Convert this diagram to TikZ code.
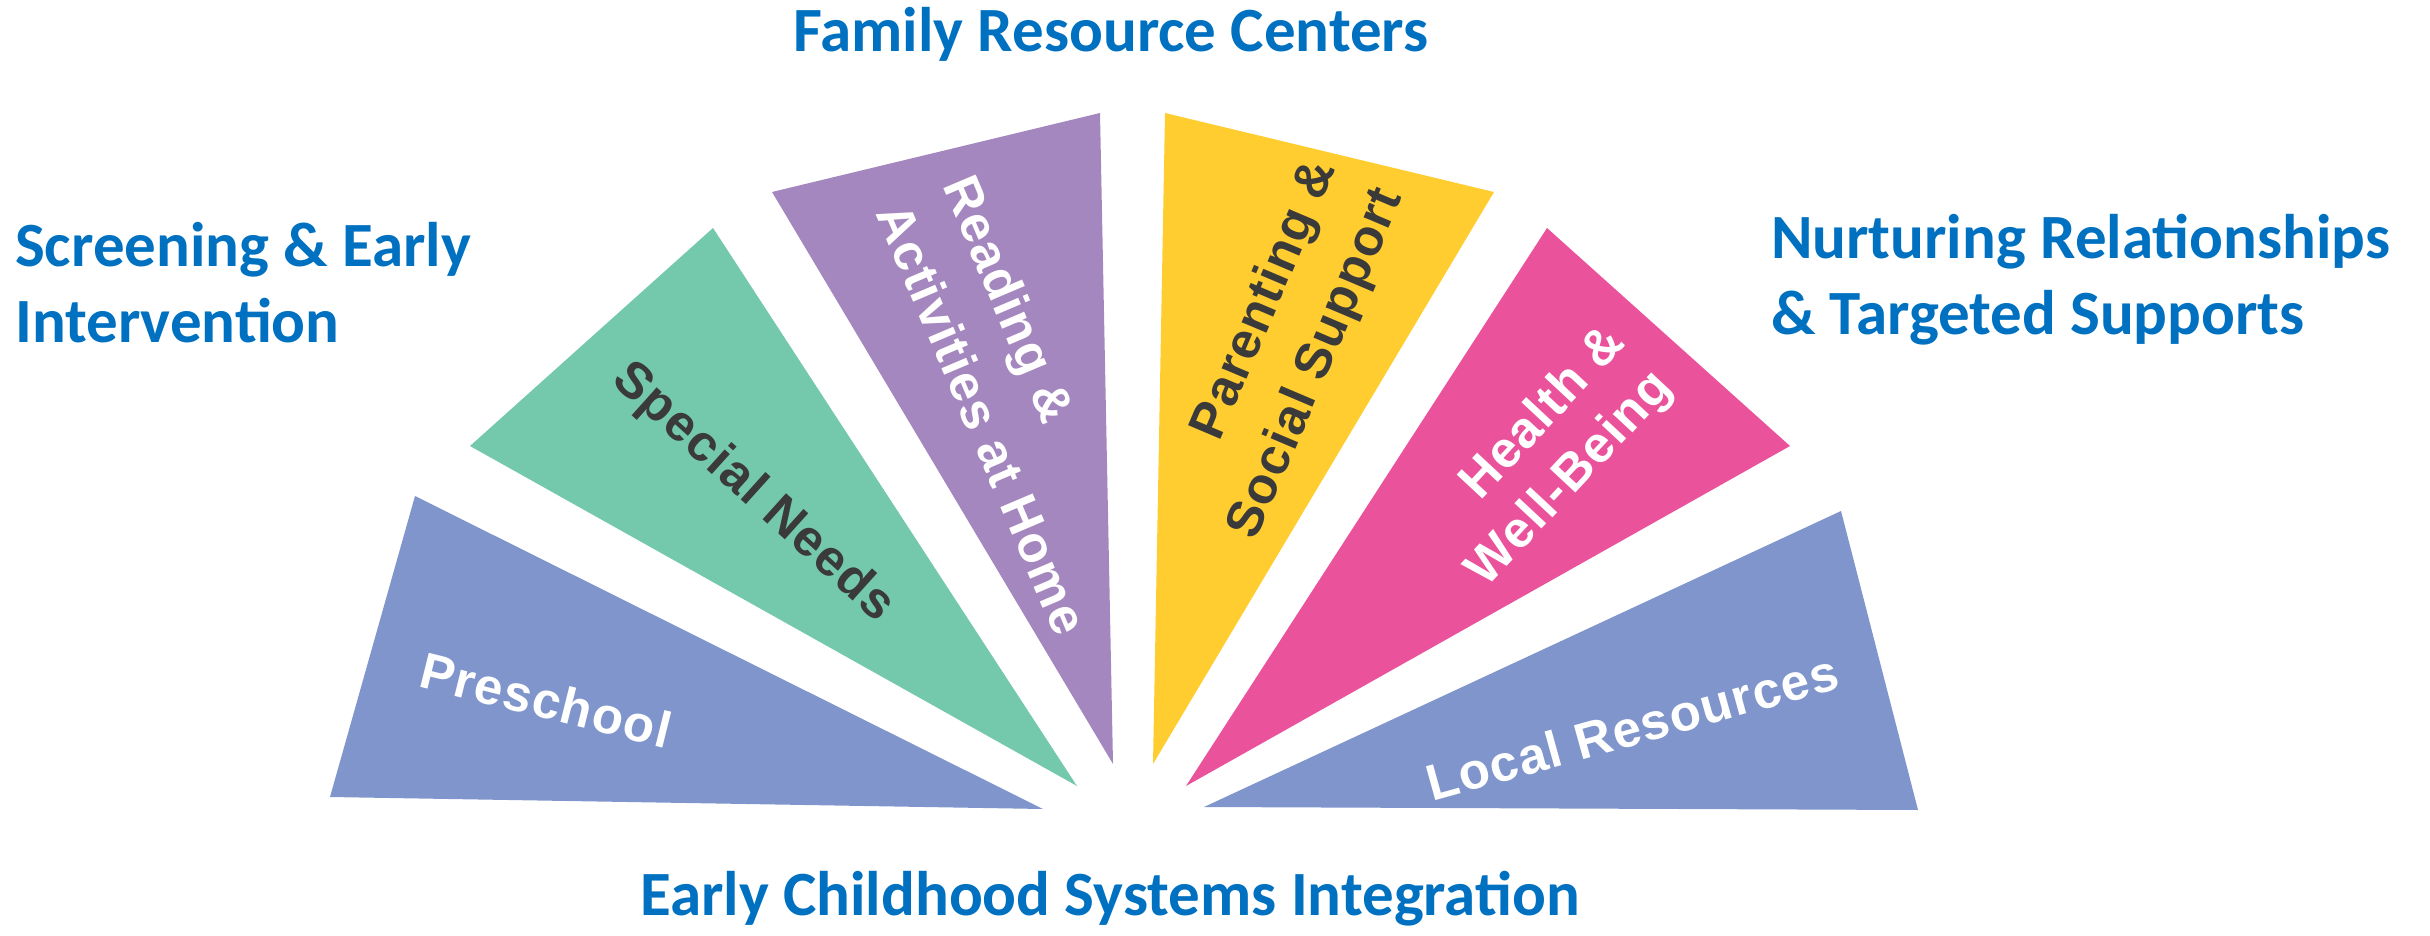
\documentclass[tikz,border=0pt]{standalone}
\usepackage{fontspec}
\newfontfamily\hdfont{Carlito}
\newfontfamily\lbfont{Liberation Sans}[LetterSpace=2.5]
\definecolor{hdblue}{HTML}{0070C0}
\definecolor{peri}{HTML}{7F95CB}
\definecolor{mint}{HTML}{74C8AC}
\definecolor{lilac}{HTML}{A487BE}
\definecolor{sun}{HTML}{FFCD2F}
\definecolor{rose}{HTML}{EA539C}
\definecolor{dark}{HTML}{3A3A3A}
\tikzset{
  head/.style={font=\hdfont\bfseries\fontsize{63}{76}\selectfont, text=hdblue, inner sep=0pt},
  lbl/.style={font=\lbfont\bfseries\fontsize{51}{72}\selectfont, inner sep=0pt},
  lblw/.style={lbl, text=white},
  lbld/.style={lbl, text=dark}
}
\begin{document}
\begin{tikzpicture}[x=1pt,y=-1pt]
\useasboundingbox (0,0) rectangle (2430,936);
% Preschool
\coordinate (pa) at (415,496); \coordinate (pb) at (330,797); \coordinate (pc) at (1043,809);
% Special Needs
\coordinate (sa) at (713,228); \coordinate (sb) at (470,446); \coordinate (sc) at (1077,786);
% Reading
\coordinate (ra) at (772,192); \coordinate (rb) at (1100,113); \coordinate (rc) at (1113,764);
% Parenting
\coordinate (qa) at (1165,113); \coordinate (qb) at (1494,192); \coordinate (qc) at (1153,764);
% Health
\coordinate (ha) at (1547,228); \coordinate (hb) at (1790,446); \coordinate (hc) at (1186,786);
% Local
\coordinate (la) at (1841,511); \coordinate (lb) at (1918,810); \coordinate (lc) at (1204,807);

\fill[peri] (pa) -- (pb) -- (pc) -- cycle;
\fill[mint] (sa) -- (sb) -- (sc) -- cycle;
\fill[lilac] (ra) -- (rb) -- (rc) -- cycle;
\fill[sun] (qa) -- (qb) -- (qc) -- cycle;
\fill[rose] (ha) -- (hb) -- (hc) -- cycle;
\fill[peri] (la) -- (lb) -- (lc) -- cycle;

\node[lblw, rotate=-14] (prel) at (546,700) {Preschool};
\node[lbld, rotate=-42] (snl) at (753,493) {Special Needs};
\node[lblw, rotate=-67, align=left] (rdl) at (1016,405) {Reading \&\\Activities at Home};
\node[lbld, rotate=67, align=right] (pal) at (1284,350) {Parenting \&\\Social Support};
\node[lblw, rotate=47, align=right, font=\lbfont\bfseries\fontsize{51}{64}\selectfont] (hwl) at (1547,458) {Health \&\\Well-Being};
\node[lblw, rotate=15.5] (lrl) at (1632,727) {Local Resources};

\node[head] (frc) at (1111,34) {Family Resource Centers};
\node[head, anchor=west, align=left] (sei) at (15,283) {Screening \& Early\\Intervention};
\node[head, anchor=west, align=left] (nrt) at (1771,280) {Nurturing Relationships\\\& Targeted Supports};
\node[head] (ecs) at (1110,899) {Early Childhood Systems Integration};
\end{tikzpicture}
\end{document}
